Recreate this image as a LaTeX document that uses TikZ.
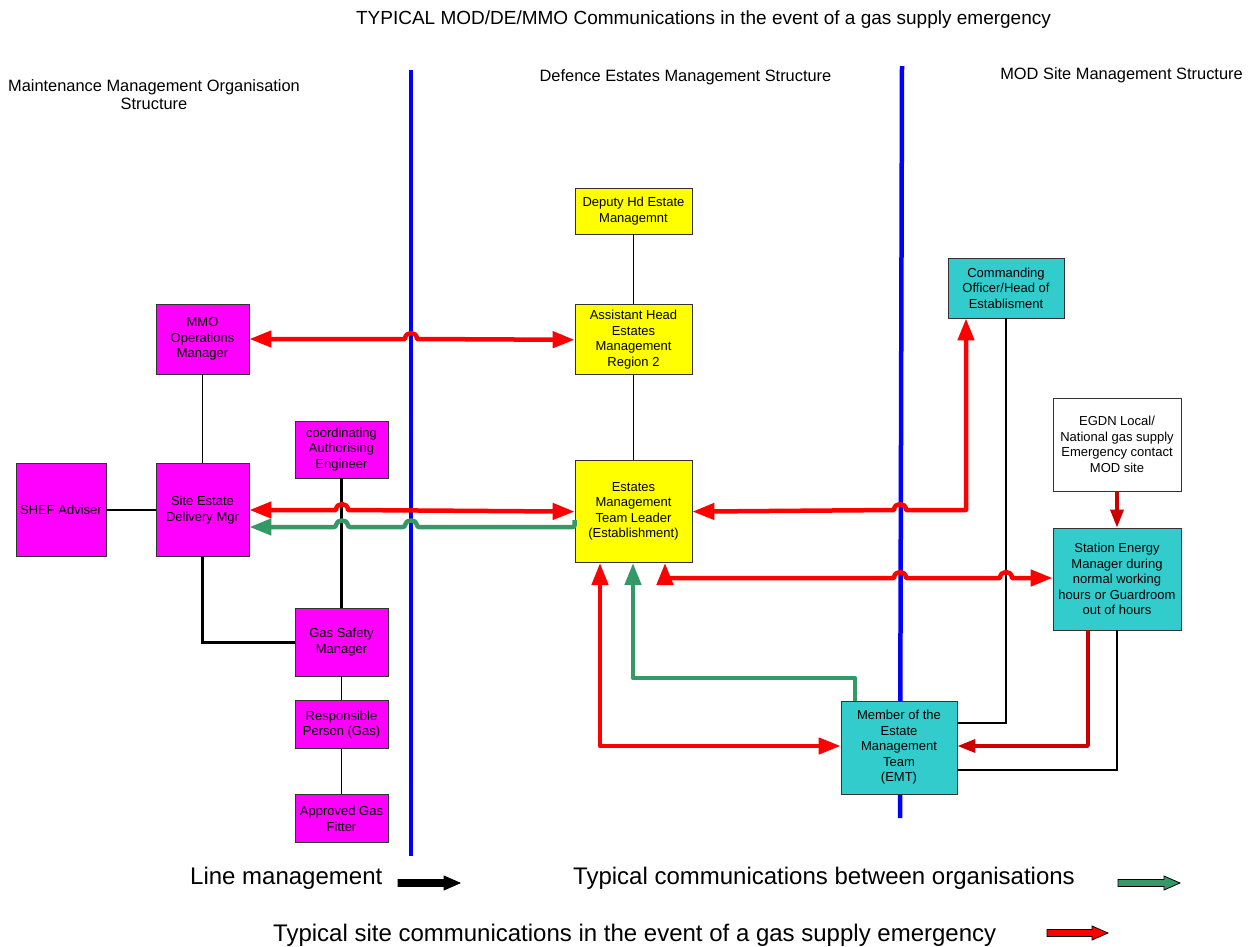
\documentclass[tikz,border=0pt]{standalone}
\usepackage{fontspec}
\setmainfont{Liberation Sans}
\usetikzlibrary{arrows.meta}
\usetikzlibrary{positioning}

\definecolor{mmomagenta}{HTML}{FF00FF}
\definecolor{deyellow}{HTML}{FFFF00}
\definecolor{stnteal}{HTML}{33CCCC}
\definecolor{commgreen}{HTML}{339966}
\definecolor{emred}{HTML}{FF0000}
\definecolor{darkemred}{HTML}{CC0000}
\definecolor{lineblue}{HTML}{0000FF}

\newcommand{\Boxfont}{\fontsize{13}{15.5}\selectfont}
\newcommand{\Headfont}{\fontsize{16.4}{18}\selectfont}
\newcommand{\Titlefont}{\fontsize{19}{22}\selectfont}
\newcommand{\Legfont}{\fontsize{24}{28}\selectfont}
\newcommand{\hop}[2]{-- ({#1-6},#2) .. controls ({#1-6},{#2-8}) and ({#1+6},{#2-8}) .. ({#1+6},#2)}
\newcommand{\LegArrow}[4]{\draw[draw=black, line width=0.8pt, fill=#4] (#1,{#3-3.5}) -- ({#2-16},{#3-3.5}) -- ({#2-16},{#3-7}) -- (#2,#3) -- ({#2-16},{#3+7}) -- ({#2-16},{#3+3.5}) -- (#1,{#3+3.5}) -- cycle;}

\tikzstyle{org} = [rectangle, draw=black!80, line width=0.8pt, inner sep=1pt, align=center, font=\Boxfont]
\tikzstyle{mmobox} = [org, fill=mmomagenta, minimum width=93pt]
\tikzstyle{debox} = [org, fill=deyellow, minimum width=117pt]
\tikzstyle{sitebox} = [org, fill=stnteal]
\tikzstyle{contactbox} = [org, fill=white]
\tikzstyle{mgmt} = [draw=black, line width=1.3pt]
\tikzstyle{mgmtthick} = [draw=black, line width=3pt]
\tikzstyle{orgdivide} = [draw=lineblue, line width=4.5pt]
\tikzstyle{emcomm} = [draw=emred, line width=4.5pt, line join=round, >={Triangle[length=22pt,width=16pt]}]
\tikzstyle{commline} = [draw=commgreen, line width=4.5pt, line join=round, >={Triangle[length=22pt,width=16pt]}]
\tikzstyle{sitecomm} = [draw=darkemred, line width=3.5pt, line join=round, >={Triangle[length=18pt,width=13pt]}]
\tikzstyle{heading} = [inner sep=0pt]

\begin{document}
\begin{tikzpicture}[x=1pt, y=-1pt]
\useasboundingbox (0,0) rectangle (1251,946);

% Organisation dividers
\draw[orgdivide] (411,70) -- (411,856);
\draw[orgdivide] (902,66) -- (900,818);

% Define nodes
\node[mmobox, minimum width=90pt, minimum height=93pt] (shef) at (61,510)     {SHEF Adviser};
\node[mmobox, minimum height=93pt]                     (sed)  at (202.5,510)  {Site Estate\\Delivery Mgr};
\node[mmobox, minimum height=70pt]                     (mmo)  at (202.5,339)  {MMO\\Operations\\Manager};
\node[mmobox, minimum height=57pt]                     (cae)  at (341.5,449.5) {coordinating\\Authorising\\Engineer};
\node[mmobox, minimum height=68pt]                     (gsm)  at (341.5,642)  {Gas Safety\\Manager};
\node[mmobox, minimum height=48pt, below=24pt of gsm]  (rp)   {Responsible\\Person (Gas)};
\node[mmobox, minimum height=48pt, below=45pt of rp]   (agf)  {Approved Gas\\Fitter};

\node[debox, minimum height=46pt]                      (dhem) at (633.5,211)  {Deputy Hd Estate\\Managemnt};
\node[debox, minimum height=70pt, below=70pt of dhem]  (ahem) {Assistant Head\\Estates\\Management\\Region 2};
\node[debox, minimum height=102pt, below=85pt of ahem] (emtl) {Estates\\Management\\Team Leader\\(Establishment)};

\node[sitebox, minimum width=116pt, minimum height=60pt]  (co)   at (1006,288)  {Commanding\\Officer/Head of\\Establisment};
\node[contactbox, minimum width=128pt, minimum height=93pt] (egdn) at (1117,444.5) {EGDN Local/\\National gas supply\\Emergency contact\\MOD site};
\node[sitebox, minimum width=128pt, minimum height=102pt] (sem)  at (1117,579)  {Station Energy\\Manager during\\normal working\\hours or Guardroom\\out of hours};
\node[sitebox, minimum width=116pt, minimum height=93pt]  (emt)  at (899,747.5) {Member of the\\Estate\\Management\\Team\\(EMT)};

% Headings
\node[heading, font=\Titlefont, anchor=base] (title)    at (703.5,24) {TYPICAL MOD/DE/MMO Communications in the event of a gas supply emergency};
\node[heading, font=\Headfont, align=center] (mmohead)  at (154,95)   {Maintenance Management Organisation\\Structure};
\node[heading, font=\Headfont, anchor=base]  (dehead)   at (685.5,81) {Defence Estates Management Structure};
\node[heading, font=\Headfont, anchor=base]  (sitehead) at (1121.5,79) {MOD Site Management Structure};

% Line management
\draw[mgmt] (dhem) -- (ahem);
\draw[mgmt] (ahem) -- (emtl);
\draw[mgmt] (mmo) -- (sed);
\draw[mgmt] (shef) -- (sed);
\draw[mgmt] (gsm) -- (rp);
\draw[mgmt] (rp) -- (agf);
\draw[mgmtthick] (cae) -- (gsm);
\draw[mgmtthick] (sed.south) |- (gsm.west);
\draw[mgmt] (co.south) |- (emt.east |- 0,723);
\draw[mgmt] (sem.south) |- (emt.east |- 0,770);

% Communications between organisations
\draw[commline, <-, rounded corners=2pt] (sed.east |- 0,527) \hop{342}{527} \hop{411}{527} -- (emtl.west |- 0,527) -- (emtl.west |- 0,520);
\draw[commline, ->] (emt.north -| 855,0) |- (633,678) -- (emtl.south -| 633,0);

% Site communications
\draw[emcomm, <->] (mmo.east) \hop{411}{339} -- (ahem.west);
\draw[emcomm, <->] (sed.east) \hop{342}{510} -- (emtl.west);
\draw[emcomm, <->] (emtl.east) \hop{900}{510} -- (966,510) -- (co.south -| 966,0);
\draw[emcomm, <->] (emtl.south -| 665,0) -- (665,578) \hop{900}{578} \hop{1006}{578} -- (sem.west |- 0,578);
\draw[emcomm, <->] (emtl.south -| 600,0) |- (emt.west |- 0,746);
\draw[sitecomm, ->] (sem.south -| 1088,0) |- (emt.east |- 0,746);
\draw[sitecomm, ->] (egdn) -- (sem);

% Legend
\node[heading, font=\Legfont, anchor=base west] (lgline) at (190,884) {Line management};
\node[heading, font=\Legfont, anchor=base west] (lgcomm) at (573,884) {Typical communications between organisations};
\node[heading, font=\Legfont, anchor=base west] (lgsite) at (273,941) {Typical site communications in the event of a gas supply emergency};
\LegArrow{398}{460}{883}{black}
\LegArrow{1118}{1180}{883}{commgreen}
\LegArrow{1047}{1108}{933}{emred}
\end{tikzpicture}
\end{document}
